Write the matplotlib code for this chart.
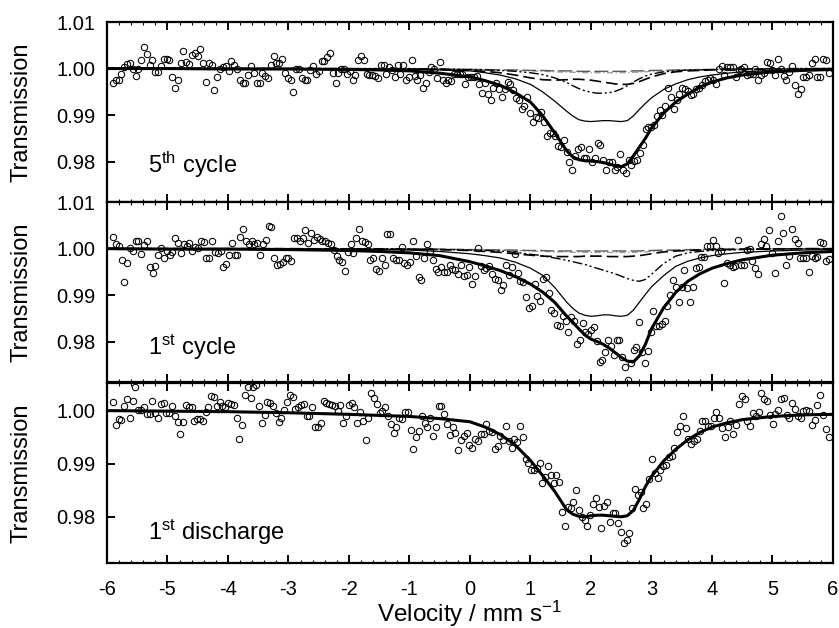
import numpy as np
import matplotlib
matplotlib.use("Agg")
import matplotlib.pyplot as plt
from matplotlib.ticker import MultipleLocator, FixedLocator

plt.rcParams['font.family'] = ['Liberation Sans', 'DejaVu Sans']
plt.rcParams['mathtext.fontset'] = 'custom'
plt.rcParams['mathtext.rm'] = 'Liberation Sans'
plt.rcParams['mathtext.it'] = 'Liberation Sans:italic'
plt.rcParams['axes.unicode_minus'] = False

# --- measured spectra (transmission), channels evenly spaced in velocity ---
v_first, v_last = -5.9, 5.93

t_5th = [
    0.9969, 0.9976, 0.9976, 0.9989, 1.0004, 1.0009, 1.0012, 1.0000, 0.9985, 1.0000,
    1.0019, 1.0046, 1.0031, 1.0007, 1.0019, 0.9993, 0.9993, 1.0005, 1.0021, 1.0021,
    1.0019, 0.9982, 0.9959, 0.9975, 1.0011, 1.0038, 1.0014, 1.0009, 1.0029, 1.0034,
    1.0026, 1.0041, 1.0012, 0.9971, 1.0012, 1.0007, 0.9954, 0.9981, 1.0000, 1.0004,
    1.0005, 0.9995, 1.0016, 1.0007, 1.0000, 0.9975, 0.9969, 0.9969, 0.9986, 1.0005,
    0.9991, 0.9969, 0.9969, 0.9991, 0.9984, 0.9979, 1.0007, 1.0026, 1.0012, 1.0011,
    1.0021, 0.9991, 0.9979, 0.9975, 0.9950, 1.0000, 1.0000, 0.9979, 0.9975, 0.9975,
    0.9996, 1.0005, 0.9989, 0.9995, 1.0016, 1.0016, 1.0025, 1.0034, 0.9991, 0.9969,
    0.9991, 1.0000, 1.0000, 0.9988, 0.9995, 0.9975, 0.9986, 1.0019, 1.0026, 1.0018,
    0.9988, 0.9987, 0.9986, 0.9984, 0.9979, 1.0007, 1.0007, 0.9989, 1.0004, 0.9996,
    0.9982, 1.0007, 0.9989,
    1.0007, 0.9976, 0.9981, 1.0018, 0.9984, 0.9975, 0.9986, 0.9959, 0.9969, 0.9993,
    1.0004, 1.0000, 0.9979, 1.0014, 0.9976, 0.9969, 0.9975, 0.9974, 0.9989, 0.9989,
    0.9988, 0.9988, 0.9966, 0.9982, 0.9982, 0.9981, 0.9984, 0.9966, 0.9948, 0.9968,
    0.9946, 0.9932, 0.9959, 0.9968, 0.9957, 0.9939, 0.9955, 0.9971, 0.9966, 0.9954,
    0.9936, 0.9932, 0.9914, 0.9919, 0.9939, 0.9904, 0.9884, 0.9896, 0.9893, 0.9907,
    0.9886, 0.9855, 0.9861, 0.9862, 0.9854, 0.9834, 0.9832, 0.9846, 0.9821, 0.9798,
    0.9782, 0.9811, 0.9826, 0.9832, 0.9807, 0.9807, 0.9826, 0.9798, 0.9807, 0.9839,
    0.9835, 0.9804, 0.9781, 0.9798, 0.9800, 0.9781, 0.9789, 0.9816, 0.9782, 0.9776,
    0.9804, 0.9793, 0.9802, 0.9804, 0.9818, 0.9836, 0.9871, 0.9875, 0.9875, 0.9879,
    0.9898, 0.9911, 0.9900, 0.9919, 0.9959, 0.9938, 0.9912, 0.9932, 0.9945, 0.9959,
    0.9955, 0.9952, 0.9943, 0.9945, 0.9955, 0.9959, 0.9964, 0.9974, 0.9976, 0.9979,
    0.9976, 0.9966, 1.0000, 1.0005, 0.9986, 1.0004, 1.0004, 1.0004, 0.9982, 0.9996,
    1.0000, 1.0004, 0.9986, 0.9989, 0.9988, 1.0000, 0.9975, 0.9986, 0.9991, 1.0014,
    1.0011, 0.9996, 0.9986, 1.0021, 1.0000, 0.9984, 0.9975, 0.9993, 1.0005, 0.9964,
    0.9946, 0.9957, 0.9981, 0.9981, 0.9986, 1.0011, 1.0021, 0.9981, 0.9981, 1.0021,
    1.0019, 0.9991,
]

t_1st = [
    1.0026, 1.0010, 1.0005, 0.9976, 0.9929, 0.9969, 1.0001, 0.9996, 1.0016, 1.0017,
    0.9989, 1.0007, 1.0017, 0.9960, 0.9948, 0.9962, 0.9987, 1.0001, 0.9980, 0.9996,
    0.9987, 0.9993, 1.0023, 1.0012, 0.9991, 1.0010, 1.0005, 1.0012, 0.9996, 1.0003,
    1.0001, 1.0016, 1.0014, 0.9980, 0.9981, 1.0016, 0.9993, 0.9991, 0.9996, 0.9960,
    0.9967, 0.9986, 1.0012, 0.9986, 0.9986, 1.0026, 1.0043, 1.0017, 1.0010, 1.0017,
    1.0009, 1.0012, 0.9987, 1.0010, 1.0019, 1.0048, 1.0046, 0.9980, 0.9964, 0.9967,
    0.9971, 0.9979, 0.9979, 0.9974, 1.0023, 1.0023, 1.0017, 1.0023, 1.0039, 1.0012,
    1.0034, 1.0019, 1.0024, 1.0021, 1.0017, 1.0017, 1.0012, 1.0009, 0.9998, 0.9984,
    0.9976, 0.9971, 0.9953, 0.9993, 1.0010, 0.9991, 1.0023, 1.0043, 1.0017, 1.0014,
    1.0009, 0.9976, 0.9980, 0.9957, 0.9953, 0.9981, 0.9966, 1.0031, 1.0031, 0.9981,
    0.9976, 0.9976, 1.0003,
    0.9969, 0.9966, 0.9971, 1.0016, 0.9985, 0.9939, 0.9932, 0.9980, 1.0009, 0.9994,
    0.9976, 0.9956, 0.9949, 0.9961, 0.9949, 0.9949, 0.9964, 0.9956, 0.9954, 0.9946,
    0.9966, 0.9941, 0.9944, 0.9961, 0.9925, 0.9941, 1.0001, 0.9962, 0.9954, 0.9959,
    0.9962, 0.9946, 0.9934, 0.9932, 0.9912, 0.9921, 0.9966, 0.9944, 0.9961, 0.9989,
    0.9948, 0.9930, 0.9928, 0.9896, 0.9873, 0.9878, 0.9925, 0.9899, 0.9887, 0.9934,
    0.9939, 0.9904, 0.9869, 0.9861, 0.9837, 0.9834, 0.9855, 0.9844, 0.9821, 0.9854,
    0.9844, 0.9796, 0.9804, 0.9841, 0.9821, 0.9818, 0.9825, 0.9832, 0.9801, 0.9756,
    0.9761, 0.9778, 0.9805, 0.9791, 0.9771, 0.9805, 0.9805, 0.9768, 0.9746, 0.9718,
    0.9755, 0.9782, 0.9789, 0.9842, 0.9778, 0.9754, 0.9780, 0.9821, 0.9866, 0.9834,
    0.9834, 0.9839, 0.9844, 0.9878, 0.9901, 0.9932, 0.9918, 0.9885, 0.9918, 0.9955,
    0.9916, 0.9885, 0.9918, 0.9959, 0.9961, 0.9982, 0.9982, 1.0006, 1.0005, 1.0018,
    1.0006, 0.9991, 0.9994, 0.9926, 0.9969, 0.9966, 0.9961, 0.9962, 1.0019, 0.9966,
    0.9966, 0.9998, 0.9999, 0.9973, 0.9959, 0.9946, 1.0011, 1.0021, 1.0006, 1.0039,
    0.9991, 0.9948, 1.0016, 1.0071, 1.0034, 0.9966, 0.9984, 1.0042, 1.0021, 1.0012,
    0.9980, 0.9980, 0.9980, 0.9949, 0.9984, 0.9980, 0.9982, 1.0014, 1.0012, 0.9973,
    0.9978,
]

t_dis = [
    1.0017, 0.9972, 0.9984, 0.9982, 1.0009, 1.0022, 0.9987, 1.0019, 1.0044, 1.0001,
    1.0001, 1.0006, 0.9994, 0.9994, 1.0019, 0.9996, 0.9987, 1.0013, 1.0015, 0.9996,
    0.9995, 1.0009, 0.9989, 0.9979, 0.9956, 0.9979, 1.0011, 1.0006, 1.0006, 0.9981,
    0.9984, 0.9984, 0.9981, 0.9998, 1.0006, 1.0028, 1.0025, 1.0009, 1.0017, 1.0008,
    1.0006, 1.0014, 1.0013, 1.0011, 0.9986, 0.9946, 0.9973, 1.0030, 1.0045, 1.0023,
    1.0045, 1.0048, 1.0008, 0.9977, 0.9992, 1.0017, 1.0015, 1.0008, 0.9995, 0.9979,
    0.9986, 1.0001, 1.0017, 1.0030, 1.0026, 1.0004, 1.0006, 1.0011, 1.0013, 0.9990,
    0.9990, 1.0006, 0.9970, 0.9969, 0.9977, 1.0019, 1.0014, 1.0013, 1.0011, 1.0008,
    1.0000, 1.0011, 0.9977, 0.9989, 1.0011, 1.0014, 1.0006, 0.9977, 0.9998, 0.9981,
    0.9945, 0.9987, 1.0033, 1.0023, 1.0013, 0.9995, 1.0000, 1.0006, 0.9990, 0.9975,
    0.9958, 0.9969, 0.9986, 0.9984, 0.9998, 0.9998, 0.9964, 0.9927, 0.9950, 0.9962,
    0.9990, 0.9976, 0.9970, 0.9987, 0.9952, 0.9969, 1.0009, 1.0009, 0.9994, 0.9975,
    0.9954, 0.9969, 0.9958, 0.9925, 0.9945, 0.9952, 0.9958, 0.9935, 0.9929, 0.9946,
    0.9943, 0.9956, 0.9956, 0.9975, 0.9962, 0.9960, 0.9927, 0.9933, 0.9952, 0.9945,
    0.9971, 0.9943, 0.9929, 0.9946, 0.9940, 0.9971, 0.9951, 0.9908, 0.9902, 0.9889,
    0.9889, 0.9891, 0.9901, 0.9864, 0.9875, 0.9896, 0.9879, 0.9863, 0.9879, 0.9866,
    0.9809, 0.9782, 0.9818, 0.9816, 0.9828, 0.9850, 0.9813, 0.9799, 0.9794, 0.9782,
    0.9803, 0.9825, 0.9835, 0.9818, 0.9778, 0.9820, 0.9828, 0.9791, 0.9808, 0.9808,
    0.9789, 0.9772, 0.9750, 0.9757, 0.9770, 0.9816, 0.9853, 0.9841, 0.9847, 0.9816,
    0.9824, 0.9872, 0.9908, 0.9883, 0.9874, 0.9889, 0.9896, 0.9897, 0.9913, 0.9914,
    0.9929, 0.9960, 0.9971, 0.9990, 0.9967, 0.9946, 0.9938, 0.9943, 0.9946, 0.9962,
    0.9981, 0.9981, 0.9971, 0.9971, 0.9987, 0.9998, 0.9987, 0.9967, 0.9950, 0.9969,
    0.9981, 0.9956, 0.9973, 1.0013, 1.0028, 1.0021, 0.9981, 0.9971, 0.9996, 0.9990,
    0.9998, 1.0034, 1.0021, 1.0019, 0.9992, 0.9975, 0.9994, 1.0001, 1.0021, 1.0023,
    0.9992, 0.9987, 1.0015, 1.0003, 0.9990, 0.9987, 1.0000, 1.0001, 1.0000, 0.9973,
    0.9982, 1.0011, 1.0030, 0.9992, 0.9965, 0.9951,
]

# --- fitted curves at these velocities ---
fit_v = [-6, -5, -4, -3, -2, -1.5, -1, -0.5, 0, 0.25, 0.5, 0.75, 1.0, 1.2, 1.4,
         1.6, 1.7, 1.8, 1.9, 2.0, 2.1, 2.2, 2.3, 2.4, 2.5, 2.6, 2.7, 2.8, 2.9,
         3.0, 3.2, 3.4, 3.6, 3.8, 4.0, 4.25, 4.5, 5.0, 5.5, 6.0]

fit5_total = [1.0000, 1.0000, 0.9999, 0.9999, 0.9998, 0.9997, 0.9995, 0.9990, 0.9982, 0.9974,
              0.9964, 0.9948, 0.9928, 0.9899, 0.9862, 0.9823, 0.9810, 0.9804, 0.9802, 0.9801,
              0.9800, 0.9798, 0.9795, 0.9791, 0.9789, 0.9795, 0.9812, 0.9831, 0.9850, 0.9872,
              0.9904, 0.9928, 0.9945, 0.9960, 0.9971, 0.9980, 0.9986, 0.9993, 0.9996, 0.9998]
fit5_a = [1.0000, 1.0000, 1.0000, 1.0000, 0.9999, 0.9999, 0.9998, 0.9997, 0.9995, 0.9991,
          0.9986, 0.9978, 0.9966, 0.9950, 0.9930, 0.9908, 0.9898, 0.9890, 0.9887, 0.9886,
          0.9887, 0.9888, 0.9888, 0.9887, 0.9886, 0.9888, 0.9898, 0.9912, 0.9925, 0.9937,
          0.9955, 0.9967, 0.9976, 0.9982, 0.9986, 0.9990, 0.9993, 0.9996, 0.9997, 0.9998]
fit5_b = [1.0000, 1.0000, 1.0000, 1.0000, 0.9999, 0.9999, 0.9999, 0.9998, 0.9996, 0.9994,
          0.9991, 0.9986, 0.9980, 0.9976, 0.9975, 0.9976, 0.9977, 0.9977, 0.9976, 0.9975,
          0.9973, 0.9971, 0.9969, 0.9967, 0.9966, 0.9966, 0.9968, 0.9972, 0.9977, 0.9982,
          0.9989, 0.9993, 0.9995, 0.9996, 0.9997, 0.9998, 0.9998, 0.9999, 0.9999, 1.0000]
fit5_c = [1.0000, 1.0000, 1.0000, 1.0000, 1.0000, 1.0000, 1.0000, 0.9999, 0.9998, 0.9997,
          0.9996, 0.9994, 0.9991, 0.9987, 0.9980, 0.9970, 0.9963, 0.9957, 0.9952, 0.9949,
          0.9947, 0.9947, 0.9948, 0.9951, 0.9956, 0.9963, 0.9971, 0.9978, 0.9984, 0.9988,
          0.9993, 0.9995, 0.9997, 0.9997, 0.9998, 0.9999, 0.9999, 1.0000, 1.0000, 1.0000]
fit5_d = [1.0000, 1.0000, 1.0000, 1.0000, 1.0000, 0.9999, 0.9999, 0.9999, 0.9998, 0.9998,
          0.9997, 0.9997, 0.9996, 0.9996, 0.9995, 0.9995, 0.9995, 0.9994, 0.9994, 0.9994,
          0.9994, 0.9994, 0.9994, 0.9994, 0.9994, 0.9994, 0.9995, 0.9995, 0.9995, 0.9996,
          0.9996, 0.9997, 0.9997, 0.9998, 0.9998, 0.9999, 0.9999, 0.9999, 1.0000, 1.0000]
fit5_e = [1.0000, 1.0000, 1.0000, 1.0000, 1.0000, 1.0000, 0.9999, 0.9999, 0.9998, 0.9998,
          0.9997, 0.9996, 0.9995, 0.9994, 0.9993, 0.9992, 0.9992, 0.9992, 0.9991, 0.9991,
          0.9991, 0.9991, 0.9991, 0.9991, 0.9991, 0.9991, 0.9992, 0.9992, 0.9993, 0.9994,
          0.9995, 0.9996, 0.9997, 0.9998, 0.9998, 0.9999, 0.9999, 1.0000, 1.0000, 1.0000]

fit1_total = [1.0000, 0.9999, 0.9999, 0.9998, 0.9996, 0.9994, 0.9991, 0.9985, 0.9972, 0.9963,
              0.9953, 0.9940, 0.9924, 0.9907, 0.9885, 0.9855, 0.9842, 0.9828, 0.9815, 0.9806,
              0.9801, 0.9795, 0.9787, 0.9777, 0.9767, 0.9759, 0.9757, 0.9770, 0.9795, 0.9828,
              0.9873, 0.9906, 0.9930, 0.9946, 0.9958, 0.9968, 0.9976, 0.9986, 0.9991, 0.9994]
fit1_a = [1.0000, 1.0000, 1.0000, 0.9999, 0.9999, 0.9998, 0.9997, 0.9994, 0.9989, 0.9985,
          0.9980, 0.9971, 0.9958, 0.9943, 0.9917, 0.9885, 0.9872, 0.9862, 0.9857, 0.9855,
          0.9856, 0.9858, 0.9858, 0.9856, 0.9855, 0.9857, 0.9868, 0.9885, 0.9902, 0.9918,
          0.9942, 0.9962, 0.9973, 0.9980, 0.9985, 0.9989, 0.9992, 0.9995, 0.9997, 0.9998]
fit1_b = [1.0000, 1.0000, 1.0000, 1.0000, 0.9999, 0.9999, 0.9999, 0.9998, 0.9996, 0.9994,
          0.9992, 0.9989, 0.9986, 0.9984, 0.9983, 0.9983, 0.9983, 0.9983, 0.9984, 0.9984,
          0.9984, 0.9984, 0.9983, 0.9983, 0.9983, 0.9983, 0.9984, 0.9985, 0.9987, 0.9989,
          0.9993, 0.9995, 0.9996, 0.9997, 0.9998, 0.9998, 0.9999, 0.9999, 1.0000, 1.0000]
fit1_c = [1.0000, 1.0000, 1.0000, 1.0000, 1.0000, 1.0000, 0.9999, 0.9998, 0.9997, 0.9996,
          0.9995, 0.9992, 0.9988, 0.9985, 0.9980, 0.9975, 0.9972, 0.9969, 0.9966, 0.9962,
          0.9958, 0.9954, 0.9950, 0.9946, 0.9941, 0.9936, 0.9932, 0.9930, 0.9934, 0.9945,
          0.9968, 0.9984, 0.9991, 0.9994, 0.9996, 0.9997, 0.9998, 0.9999, 1.0000, 1.0000]
fit1_d = [1.0000, 1.0000, 1.0000, 1.0000, 1.0000, 0.9999, 0.9999, 0.9999, 0.9998, 0.9998,
          0.9997, 0.9997, 0.9996, 0.9996, 0.9995, 0.9995, 0.9995, 0.9995, 0.9995, 0.9995,
          0.9995, 0.9995, 0.9995, 0.9995, 0.9995, 0.9995, 0.9995, 0.9995, 0.9996, 0.9996,
          0.9997, 0.9997, 0.9998, 0.9998, 0.9999, 0.9999, 0.9999, 1.0000, 1.0000, 1.0000]
fit1_e = [1.0000, 1.0000, 1.0000, 1.0000, 1.0000, 1.0000, 0.9999, 0.9999, 0.9998, 0.9998,
          0.9997, 0.9996, 0.9995, 0.9994, 0.9993, 0.9993, 0.9992, 0.9992, 0.9992, 0.9992,
          0.9992, 0.9992, 0.9992, 0.9992, 0.9992, 0.9992, 0.9992, 0.9993, 0.9993, 0.9994,
          0.9995, 0.9996, 0.9997, 0.9998, 0.9998, 0.9999, 0.9999, 1.0000, 1.0000, 1.0000]

fitd_total = [1.0000, 0.9999, 0.9998, 0.9996, 0.9993, 0.9991, 0.9989, 0.9985, 0.9979, 0.9969,
              0.9955, 0.9935, 0.9906, 0.9878, 0.9848, 0.9813, 0.9805, 0.9801, 0.9800, 0.9802,
              0.9803, 0.9803, 0.9802, 0.9801, 0.9800, 0.9802, 0.9812, 0.9833, 0.9857, 0.9876,
              0.9905, 0.9927, 0.9945, 0.9959, 0.9969, 0.9977, 0.9983, 0.9989, 0.9992, 0.9993]

labels = [r"5$^{\mathrm{th}}$ cycle", r"1$^{\mathrm{st}}$ cycle", r"1$^{\mathrm{st}}$ discharge"]

# line styles: total fit, then sub-spectra
styles = [
    dict(color="black", lw=2.2, ls="-"),
    dict(color="black", lw=0.9, ls="-"),
    dict(color="black", lw=1.2, ls=(0, (7, 3))),
    dict(color="black", lw=1.0, ls=(0, (7, 2, 1.5, 2, 1.5, 2))),
    dict(color="0.35", lw=1.0, ls=(0, (10, 3))),
    dict(color="0.6", lw=0.9, ls=(0, (5, 2, 1, 2))),
]

panels = [
    (t_5th, [fit5_total, fit5_a, fit5_b, fit5_c, fit5_d, fit5_e], (0.9713, 1.01), [0.98, 0.99, 1.00, 1.01], 0.16),
    (t_1st, [fit1_total, fit1_a, fit1_b, fit1_c, fit1_d, fit1_e], (0.9714, 1.01), [0.98, 0.99, 1.00, 1.01], 0.15),
    (t_dis, [fitd_total], (0.9713, 1.0052), [0.98, 0.99, 1.00], 0.13),
]

fig = plt.figure(figsize=(8.39, 6.28), dpi=100)
left, width, height = 0.1275, 0.8653, 0.2866
bottoms = [0.6783, 0.3917, 0.1035]

for i, (t, fits, ylim, yt, ty) in enumerate(panels):
    ax = fig.add_axes([left, bottoms[i], width, height])
    vel = np.linspace(v_first, v_last, len(t))
    # sub-spectra first, total fit on top
    for j in range(len(fits) - 1, -1, -1):
        ax.plot(fit_v, fits[j], zorder=2 + (j == 0), **styles[j])
    ax.plot(vel, t, "o", mfc="none", mec="black", ms=4.6, mew=0.75, zorder=4)

    ax.set_xlim(-6, 6)
    ax.set_ylim(*ylim)
    ax.xaxis.set_major_locator(MultipleLocator(1))
    ax.xaxis.set_minor_locator(MultipleLocator(0.2))
    ax.yaxis.set_major_locator(FixedLocator(yt))
    ax.set_yticklabels([f"{y:.2f}" for y in yt])
    ax.tick_params(axis="x", which="major", direction="in", top=True, bottom=True,
                   length=6, width=1.4, labelsize=14.5, pad=12)
    ax.tick_params(axis="x", which="minor", direction="in", top=True, bottom=True,
                   length=2, width=0.8)
    ax.tick_params(axis="y", which="major", direction="in", left=True, right=False,
                   length=6, width=1.4, labelsize=14.5, pad=8)
    for s in ax.spines.values():
        s.set_linewidth(1.6)
    if i < 2:
        ax.tick_params(axis="x", labelbottom=False)
    ax.set_ylabel("Transmission", fontsize=17)
    ax.yaxis.set_label_coords(-0.103, 0.5)
    ax.text(0.056, ty, labels[i], transform=ax.transAxes, fontsize=17, va="baseline")
    if i == 2:
        ax.set_xlabel(r"Velocity / mm s$^{-1}$", fontsize=17.5)
        ax.xaxis.set_label_coords(0.5, -0.2)

fig.savefig("out.png", dpi=100)
